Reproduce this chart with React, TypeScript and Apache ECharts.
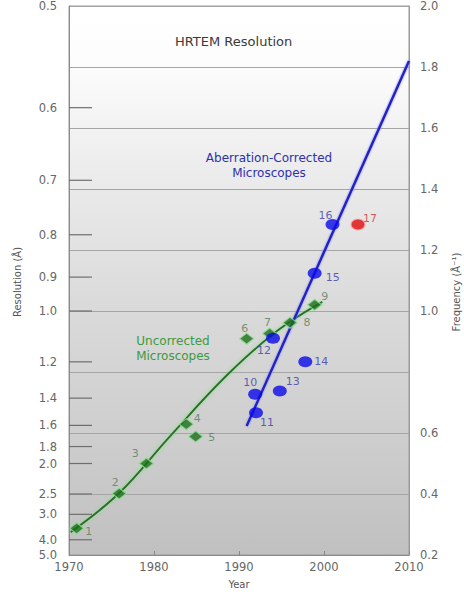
import React, { useEffect, useRef } from "react";
import * as echarts from "echarts";

// ---- Data ----
const leftTickRes = [0.5, 0.6, 0.7, 0.8, 0.9, 1.0, 1.2, 1.4, 1.6, 1.8, 2.0, 2.5, 3.0, 4.0, 5.0];

const greenYears = [1970.9, 1975.9, 1979.1, 1983.8, 1984.9, 1990.9, 1993.6, 1996.0, 1998.9];
const greenRes = [3.48, 2.49, 2.0, 1.59, 1.7, 1.1, 1.08, 1.04, 0.98];
const greenLabels = ["1", "2", "3", "4", "5", "6", "7", "8", "9"];

const blueYears = [1991.9, 1992.0, 1994.0, 1994.8, 1997.8, 1998.9, 2001.0];
const blueRes = [1.375, 1.5, 1.098, 1.355, 1.2, 0.89, 0.779];
const blueLabels = ["10", "11", "12", "13", "14", "15", "16"];

const redYears = [2004.0];
const redRes = [0.779];
const redLabels = ["17"];

// uncorrected trend curve (year, frequency 1/Å)
const greenCurveYears = [1970.2, 1975.9, 1981.9, 1988.6, 1994.5, 1999.8];
const greenCurveFreq = [0.275, 0.403, 0.59, 0.79, 0.935, 1.03];

// aberration-corrected trend line (year, frequency)
const blueLineYears = [1990.9, 2010];
const blueLineFreq = [0.623, 1.82];

// label offsets (style, kept separate from the data)
const greenLabelOffsets = [[12, 3], [-4, -11], [-11, -10], [11, -6], [16, 1], [-2, -10], [-2, -11], [17, 0], [10, -8]];
const blueLabelOffsets = [[-5, -12], [11, 10], [-9, 12], [13, -9], [16, 0], [18, 4], [-7, -9]];
const redLabelOffsets = [[12, -6]];

const FONT = '"DejaVu Sans", "Liberation Sans", sans-serif';

export default function App() {
  const ref = useRef<HTMLDivElement>(null);

  useEffect(() => {
    if (!ref.current) return;
    const chart = echarts.init(ref.current, undefined, { renderer: "svg" });

    const pts = (years: number[], res: number[], offs: number[][]) =>
      years.map((y, i) => ({
        value: [y, 1 / res[i]],
        label: { offset: offs[i] },
      }));

    const option: any = {
      animation: false,
      backgroundColor: "#ffffff",
      grid: {
        left: 69,
        right: 55,
        top: 6,
        bottom: 40,
        show: true,
        borderColor: "#9a9a9a",
        borderWidth: 1,
        backgroundColor: new echarts.graphic.LinearGradient(0, 0, 0, 1, [
          { offset: 0, color: "#ffffff" },
          { offset: 0.11, color: "#fcfcfc" },
          { offset: 0.3, color: "#ececec" },
          { offset: 0.55, color: "#dadada" },
          { offset: 0.8, color: "#cdcdcd" },
          { offset: 1, color: "#c0c0c0" },
        ]),
      },
      xAxis: {
        type: "value",
        min: 1970,
        max: 2010,
        interval: 10,
        name: "Year",
        nameLocation: "middle",
        nameGap: 24,
        nameTextStyle: { fontFamily: FONT, fontSize: 10, color: "#555" },
        axisLine: { show: true, lineStyle: { color: "#8a8a8a" } },
        axisTick: { show: true, inside: true, length: 4, lineStyle: { color: "#888" } },
        axisLabel: {
          fontFamily: FONT,
          fontSize: 11.5,
          color: "#666",
          margin: 6,
          formatter: (v: number) => String(Math.round(v)),
        },
        splitLine: { show: false },
      },
      yAxis: [
        {
          type: "value",
          position: "right",
          min: 0.2,
          max: 2.0,
          interval: 0.2,
          axisLine: { show: true, lineStyle: { color: "#9a9a9a" } },
          axisTick: { show: false },
          axisLabel: {
            fontFamily: FONT,
            fontSize: 11.5,
            color: "#666",
            margin: 11,
            showMaxLabel: true,
            showMinLabel: true,
            formatter: (v: number) => (Math.abs(v - 0.8) < 1e-6 ? "" : v.toFixed(1)),
          },
          splitLine: { show: true, lineStyle: { color: "#a5a5a5", width: 1 } },
        },
        {
          type: "value",
          position: "left",
          min: 0.2,
          max: 2.0,
          interval: 0.2,
          axisLine: { show: true, lineStyle: { color: "#8a8a8a" } },
          axisTick: { show: false },
          axisLabel: { show: false },
          splitLine: { show: false },
        },
      ],
      graphic: [
        {
          type: "text",
          left: 175,
          top: 35,
          style: { text: "HRTEM Resolution", font: `13px ${FONT}`, fill: "#3a3a3a" },
        },
        {
          type: "text",
          x: 269,
          y: 158,
          style: { text: "Aberration-Corrected", font: `12px ${FONT}`, fill: "#3030b0", align: "center", verticalAlign: "middle" },
        },
        {
          type: "text",
          x: 269,
          y: 173,
          style: { text: "Microscopes", font: `12px ${FONT}`, fill: "#3030b0", align: "center", verticalAlign: "middle" },
        },
        {
          type: "text",
          x: 173,
          y: 341,
          style: { text: "Uncorrected", font: `12px ${FONT}`, fill: "#3c9a3c", align: "center", verticalAlign: "middle" },
        },
        {
          type: "text",
          x: 173,
          y: 356,
          style: { text: "Microscopes", font: `12px ${FONT}`, fill: "#3c9a3c", align: "center", verticalAlign: "middle" },
        },
        {
          type: "text",
          x: 17,
          y: 282,
          rotation: Math.PI / 2,
          style: { text: "Resolution (Å)", font: `10px ${FONT}`, fill: "#555", align: "center", verticalAlign: "middle" },
        },
        {
          type: "text",
          x: 456,
          y: 292,
          rotation: Math.PI / 2,
          style: { text: "Frequency (Å⁻¹)", font: `10px ${FONT}`, fill: "#555", align: "center", verticalAlign: "middle" },
        },
      ],
      series: [
        {
          type: "custom",
          name: "leftTicks",
          xAxisIndex: 0,
          yAxisIndex: 0,
          silent: true,
          clip: false,
          z: 5,
          data: leftTickRes.map((r) => [1970, 1 / r, r]),
          renderItem: (params: any, api: any) => {
            const pt = api.coord([api.value(0), api.value(1)]);
            const r = api.value(2);
            const isEnd = params.dataIndex === 0 || params.dataIndex === leftTickRes.length - 1;
            const children: any[] = [
              {
                type: "text",
                x: pt[0] - 12,
                y: pt[1],
                style: { text: r.toFixed(1), align: "right", verticalAlign: "middle", fill: "#666", font: `11.5px ${FONT}` },
              },
            ];
            if (!isEnd) {
              children.push({
                type: "line",
                shape: { x1: pt[0], y1: pt[1], x2: pt[0] + 23, y2: pt[1] },
                style: { stroke: "#6e6e6e", lineWidth: 1.2 },
              });
            }
            return { type: "group", children };
          },
        },
        {
          type: "line",
          name: "greenCurve",
          smooth: 0.4,
          showSymbol: false,
          silent: true,
          z: 3,
          data: greenCurveYears.map((y, i) => [y, greenCurveFreq[i]]),
          lineStyle: { color: "#2a6e2a", width: 2, shadowColor: "#7fe07f", shadowBlur: 4 },
        },
        {
          type: "line",
          name: "blueLine",
          showSymbol: false,
          silent: true,
          z: 3,
          data: blueLineYears.map((y, i) => [y, blueLineFreq[i]]),
          lineStyle: { color: "#2020c0", width: 2.5, shadowColor: "#8080ff", shadowBlur: 2 },
        },
        {
          type: "scatter",
          name: "uncorrected",
          symbol: "diamond",
          symbolSize: [14, 11],
          z: 4,
          data: pts(greenYears, greenRes, greenLabelOffsets),
          itemStyle: { color: "#1b6e1b", borderColor: "#8fe08f", borderWidth: 1.2 },
          label: {
            show: true,
            position: "inside",
            fontFamily: FONT,
            fontSize: 11,
            color: "#5c7a5c",
            formatter: (p: any) => greenLabels[p.dataIndex],
          },
        },
        {
          type: "scatter",
          name: "corrected",
          symbol: "circle",
          symbolSize: [14, 11],
          z: 6,
          data: pts(blueYears, blueRes, blueLabelOffsets),
          itemStyle: { color: "#0a0ae8" },
          label: {
            show: true,
            position: "inside",
            fontFamily: FONT,
            fontSize: 11,
            color: "#3a3aa8",
            formatter: (p: any) => blueLabels[p.dataIndex],
          },
        },
        {
          type: "scatter",
          name: "latest",
          symbol: "circle",
          symbolSize: [14, 11],
          z: 6,
          data: pts(redYears, redRes, redLabelOffsets),
          itemStyle: { color: "#e00a0a", borderColor: "#f6b0b0", borderWidth: 1.2 },
          label: {
            show: true,
            position: "inside",
            fontFamily: FONT,
            fontSize: 11,
            color: "#d03030",
            formatter: (p: any) => redLabels[p.dataIndex],
          },
        },
      ],
    };

    chart.setOption(option);
    return () => chart.dispose();
  }, []);

  return (
    <div
      ref={ref}
      style={{ position: "fixed", left: 0, top: 0, width: 464, height: 595, background: "#fff" }}
    />
  );
}
